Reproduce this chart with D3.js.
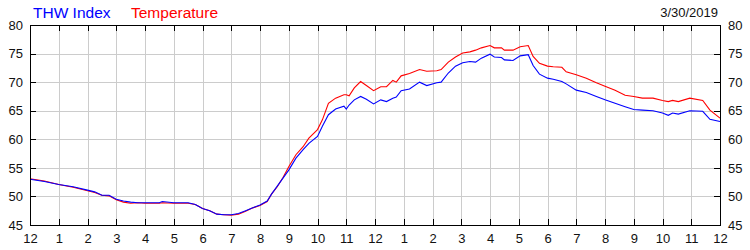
<!DOCTYPE html>
<html>
<head>
<meta charset="utf-8">
<script src="https://cdn.jsdelivr.net/npm/d3@7"></script>
<style>
    body { margin: 0; background: #fff; }
    svg { display: block; font-family: "Liberation Sans", Arial, sans-serif; }
    .grid line { stroke: #cccccc; shape-rendering: crispEdges; }
    .grid path { display: none; }
    .axis path { display: none; }
    .axis line { stroke: #000; shape-rendering: crispEdges; }
    .axis text { fill: #111; font-size: 13px; }
</style>
</head>
<body>
<div class="container"></div>
<script>
// hours after midnight, shared by both series
const hours = [0, 0.5, 1, 1.5, 2, 2.25, 2.5, 2.75, 3, 3.25, 3.5, 3.75, 4, 4.5, 4.6, 5, 5.5, 5.75,
    6, 6.25, 6.5, 6.75, 7, 7.25, 7.5, 7.75, 8, 8.25, 8.4, 8.6, 8.8, 9, 9.25, 9.5, 9.7, 10,
    10.17, 10.38, 10.63, 10.92, 11, 11.1, 11.28, 11.5, 11.7, 11.95, 12.2, 12.4, 12.62, 12.74,
    12.91, 13.2, 13.55, 13.8, 14.15, 14.3, 14.55, 14.8, 15.05, 15.3, 15.5, 15.7, 16, 16.15,
    16.4, 16.5, 16.8, 17.05, 17.33, 17.5, 17.72, 18, 18.2, 18.5, 18.65, 19, 19.35, 19.7, 20,
    20.35, 20.7, 21, 21.3, 21.67, 22, 22.2, 22.35, 22.55, 22.95, 23.4, 23.65, 24];

const thwIndex = [53.0, 52.6, 52.1, 51.7, 51.1, 50.8, 50.2, 50.2, 49.5, 49.2, 49.0, 48.9, 48.9, 48.9, 49.1, 48.9, 48.9, 48.6,
    47.9, 47.5, 46.9, 46.8, 46.8, 47.0, 47.5, 48.0, 48.5, 49.2, 50.4, 51.8, 53.2, 54.6, 56.7, 58.2, 59.3, 60.5,
    62.3, 64.3, 65.3, 65.8, 65.3, 66.0, 66.9, 67.5, 67.0, 66.2, 66.9, 66.6, 67.2, 67.4,
    68.5, 68.8, 70.0, 69.4, 69.9, 70.0, 71.6, 72.8, 73.4, 73.6, 73.5, 74.2, 74.9, 74.4,
    74.3, 73.9, 73.8, 74.6, 74.8, 72.9, 71.4, 70.7, 70.5, 70.1, 69.7, 68.6, 68.2, 67.5, 66.9,
    66.3, 65.7, 65.2, 65.1, 65.0, 64.6, 64.2, 64.6, 64.4, 65.0, 64.9, 63.5, 63.1];

const temperature = [53.1, 52.7, 52.1, 51.6, 51.0, 50.7, 50.2, 50.1, 49.4, 49.0, 48.8, 48.9, 48.8, 48.8, 48.9, 48.8, 48.8, 48.6,
    47.9, 47.5, 46.9, 46.8, 46.7, 46.9, 47.4, 48.0, 48.4, 49.1, 50.4, 51.7, 53.3, 55.2, 57.3, 58.7, 60.2, 61.7,
    63.4, 66.3, 67.2, 67.8, 67.8, 67.6, 69.0, 70.1, 69.4, 68.5, 69.2, 69.2, 70.3, 70.0,
    71.1, 71.5, 72.2, 71.9, 72.0, 72.2, 73.5, 74.4, 75.1, 75.3, 75.6, 76.0, 76.4, 76.0,
    76.0, 75.6, 75.6, 76.2, 76.4, 74.5, 73.3, 72.8, 72.7, 72.6, 71.8, 71.3, 70.7, 69.9, 69.3,
    68.6, 67.7, 67.5, 67.2, 67.2, 66.8, 66.6, 66.8, 66.6, 67.2, 66.8, 65.1, 63.7];

const hourLabels = ["12", "1", "2", "3", "4", "5", "6", "7", "8", "9", "10", "11",
    "12", "1", "2", "3", "4", "5", "6", "7", "8", "9", "10", "11", "12"];
const yTicks = [45, 50, 55, 60, 65, 70, 75, 80];

const width = 750;
const height = 250;
const plotLeft = 30, plotRight = 720, plotTop = 25, plotBottom = 225;

const svg = d3.select("div.container")
    .append("svg")
    .attr("width", width)
    .attr("height", height);

const x = d3.scaleLinear().domain([0, 24]).range([plotLeft, plotRight]);
const y = d3.scaleLinear().domain([45, 80]).range([plotBottom, plotTop]);
const hourTicks = d3.range(0, 25);

// grid
svg.append("g")
    .attr("class", "grid")
    .attr("transform", `translate(0,${plotBottom})`)
    .call(d3.axisBottom(x).tickValues(hourTicks).tickSize(-(plotBottom - plotTop)).tickFormat(""));
svg.append("g")
    .attr("class", "grid")
    .attr("transform", `translate(${plotLeft},0)`)
    .call(d3.axisLeft(y).tickValues(yTicks).tickSize(-(plotRight - plotLeft)).tickFormat(""));

// lines, temperature under THW
const line = d3.line()
    .x((d, i) => x(hours[i]))
    .y(d => y(d));

svg.append("path")
    .datum(temperature)
    .attr("fill", "none")
    .attr("stroke", "#ff0000")
    .attr("stroke-width", 1.1)
    .attr("d", line);

svg.append("path")
    .datum(thwIndex)
    .attr("fill", "none")
    .attr("stroke", "#0000ff")
    .attr("stroke-width", 1.1)
    .attr("d", line);

// frame
svg.append("rect")
    .attr("x", plotLeft + 0.5)
    .attr("y", plotTop + 0.5)
    .attr("width", plotRight - plotLeft)
    .attr("height", plotBottom - plotTop)
    .attr("fill", "none")
    .attr("stroke", "#000")
    .attr("shape-rendering", "crispEdges");

// axes with inward ticks
svg.append("g")
    .attr("class", "axis")
    .attr("transform", `translate(0,${plotBottom})`)
    .call(d3.axisBottom(x).tickValues(hourTicks).tickSize(-6).tickPadding(9)
        .tickFormat((d, i) => hourLabels[i]));
svg.append("g")
    .attr("class", "axis")
    .attr("transform", `translate(0,${plotTop})`)
    .call(d3.axisTop(x).tickValues(hourTicks).tickSize(-6).tickFormat(""));
svg.append("g")
    .attr("class", "axis")
    .attr("transform", `translate(${plotLeft},0)`)
    .call(d3.axisLeft(y).tickValues(yTicks).tickSize(-6).tickPadding(7));
svg.append("g")
    .attr("class", "axis")
    .attr("transform", `translate(${plotRight},0)`)
    .call(d3.axisRight(y).tickValues(yTicks).tickSize(-6).tickPadding(8));

// legend + date
svg.append("text").attr("x", 33).attr("y", 18)
    .attr("font-size", "15.5px").attr("fill", "#0000ff").text("THW Index");
svg.append("text").attr("x", 131).attr("y", 18)
    .attr("font-size", "15.5px").attr("fill", "#ff0000").text("Temperature");
svg.append("text").attr("x", 718).attr("y", 17)
    .attr("font-size", "13px").attr("fill", "#111").attr("text-anchor", "end").text("3/30/2019");
</script>
</body>
</html>
